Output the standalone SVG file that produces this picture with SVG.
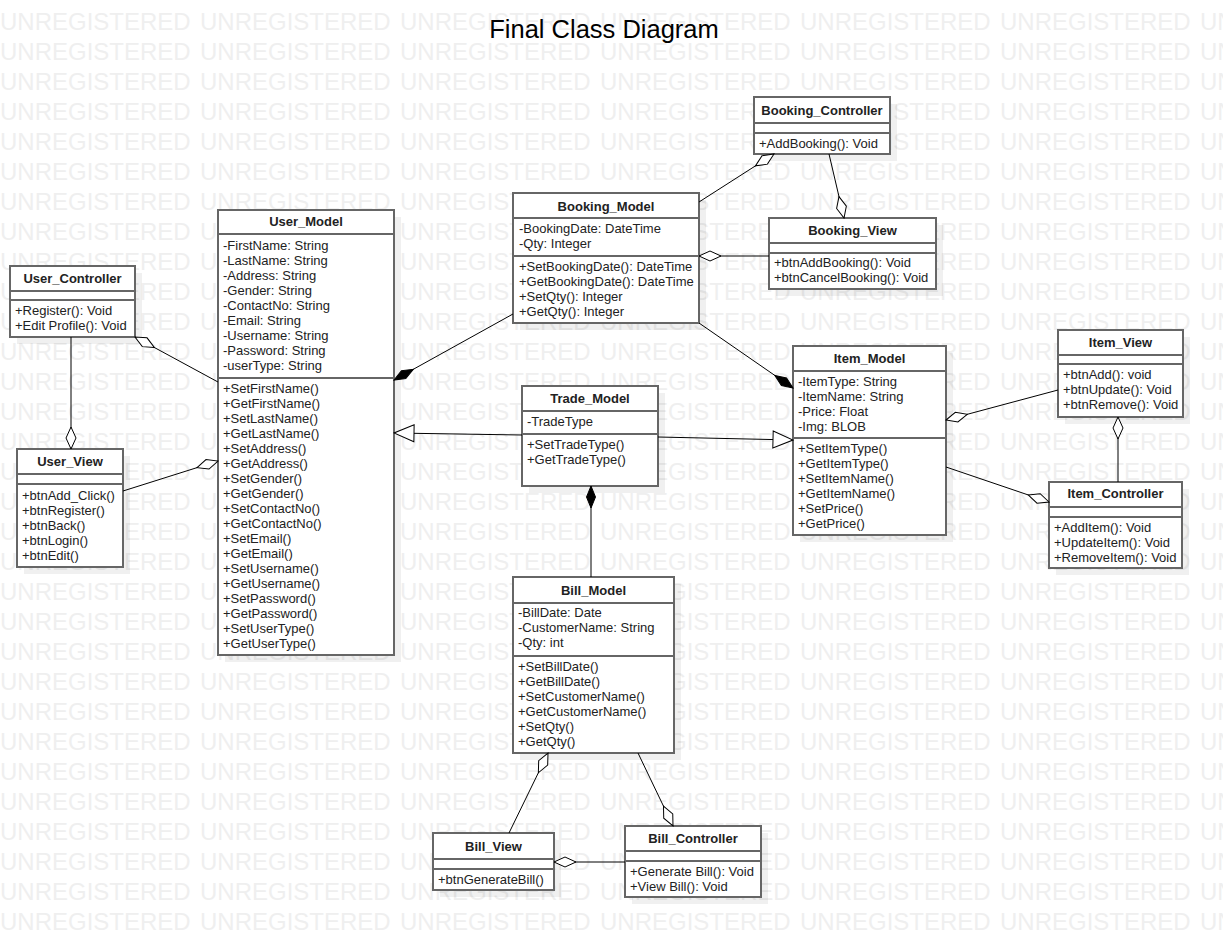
<svg xmlns="http://www.w3.org/2000/svg" width="1223" height="938" viewBox="0 0 1223 938">
<style>
.bg{fill:#fff}
.wm{font-family:"Liberation Sans",Arial,sans-serif;font-size:24px;fill:#efefef}
.sh{fill:#000;opacity:.06}
.box{fill:#fff;stroke:#666;stroke-width:2}
.dv{stroke:#666;stroke-width:2}
.t{font-family:"Liberation Sans",Arial,sans-serif;font-size:13px;fill:#222}
.h{font-weight:bold;text-anchor:middle}
.c{stroke:#000;stroke-width:1;fill:none}
.ttl{font-family:"Liberation Sans",Arial,sans-serif;font-size:25.5px;fill:#000;text-anchor:middle}
</style>
<defs>
<text id="wr" class="wm"><tspan x="0">UNREGISTERED</tspan><tspan x="200">UNREGISTERED</tspan><tspan x="400">UNREGISTERED</tspan><tspan x="600">UNREGISTERED</tspan><tspan x="800">UNREGISTERED</tspan><tspan x="1000">UNREGISTERED</tspan><tspan x="1200">UNREGISTERED</tspan></text>
<marker id="ho" markerUnits="userSpaceOnUse" markerWidth="24" markerHeight="12" viewBox="0 0 24 12" refX="23" refY="6" orient="auto"><path d="M1,6 L12,1 L23,6 L12,11 Z" fill="#fff" stroke="#000" stroke-width="1"/></marker>
<marker id="fi" markerUnits="userSpaceOnUse" markerWidth="24" markerHeight="12" viewBox="0 0 24 12" refX="23" refY="6" orient="auto"><path d="M1,6 L12,1.5 L23,6 L12,10.5 Z" fill="#000" stroke="#000" stroke-width="1"/></marker>
<marker id="tr" markerUnits="userSpaceOnUse" markerWidth="22" markerHeight="20" viewBox="0 0 22 20" refX="21" refY="10" orient="auto"><path d="M1,1.5 L21,10 L1,18.5 Z" fill="#fff" stroke="#000" stroke-width="1"/></marker>
</defs>
<rect class="bg" x="0" y="0" width="1223" height="938"/>
<g id="watermark">
<use href="#wr" y="30"/><use href="#wr" y="60"/><use href="#wr" y="90"/><use href="#wr" y="120"/><use href="#wr" y="150"/><use href="#wr" y="180"/><use href="#wr" y="210"/><use href="#wr" y="240"/><use href="#wr" y="270"/><use href="#wr" y="300"/><use href="#wr" y="330"/><use href="#wr" y="360"/><use href="#wr" y="390"/><use href="#wr" y="420"/><use href="#wr" y="450"/><use href="#wr" y="480"/><use href="#wr" y="510"/><use href="#wr" y="540"/><use href="#wr" y="570"/><use href="#wr" y="600"/><use href="#wr" y="630"/><use href="#wr" y="660"/><use href="#wr" y="690"/><use href="#wr" y="720"/><use href="#wr" y="750"/><use href="#wr" y="780"/><use href="#wr" y="810"/><use href="#wr" y="840"/><use href="#wr" y="870"/><use href="#wr" y="900"/><use href="#wr" y="930"/>
</g>
<text class="ttl" x="604" y="38">Final Class Diagram</text>

<g id="User_Controller">
<rect class="sh" x="17" y="273" width="125" height="71"/>
<rect class="box" x="10" y="266" width="125" height="71"/>
<line class="dv" x1="10" y1="291" x2="135" y2="291"/><line class="dv" x1="10" y1="300" x2="135" y2="300"/>
<text class="t h" x="72.5" y="283">User_Controller</text>
<text class="t" x="15" y="315">+Register(): Void</text>
<text class="t" x="15" y="330">+Edit Profile(): Void</text>
</g>

<g id="User_View">
<rect class="sh" x="24" y="456" width="106" height="118"/>
<rect class="box" x="17" y="449" width="106" height="118"/>
<line class="dv" x1="17" y1="474" x2="123" y2="474"/><line class="dv" x1="17" y1="484" x2="123" y2="484"/>
<text class="t h" x="70" y="466">User_View</text>
<text class="t" x="22" y="500">+btnAdd_Click()</text>
<text class="t" x="22" y="515">+btnRegister()</text>
<text class="t" x="22" y="530">+btnBack()</text>
<text class="t" x="22" y="545">+btnLogin()</text>
<text class="t" x="22" y="560">+btnEdit()</text>
</g>

<g id="User_Model">
<rect class="sh" x="225" y="217" width="176" height="445"/>
<rect class="box" x="218" y="210" width="176" height="445"/>
<line class="dv" x1="218" y1="234" x2="394" y2="234"/><line class="dv" x1="218" y1="378" x2="394" y2="378"/>
<text class="t h" x="306" y="226">User_Model</text>
<text class="t" x="223" y="250">-FirstName: String</text>
<text class="t" x="223" y="265">-LastName: String</text>
<text class="t" x="223" y="280">-Address: String</text>
<text class="t" x="223" y="295">-Gender: String</text>
<text class="t" x="223" y="310">-ContactNo: String</text>
<text class="t" x="223" y="325">-Email: String</text>
<text class="t" x="223" y="340">-Username: String</text>
<text class="t" x="223" y="355">-Password: String</text>
<text class="t" x="223" y="370">-userType: String</text>
<text class="t" x="223" y="393">+SetFirstName()</text>
<text class="t" x="223" y="408">+GetFirstName()</text>
<text class="t" x="223" y="423">+SetLastName()</text>
<text class="t" x="223" y="438">+GetLastName()</text>
<text class="t" x="223" y="453">+SetAddress()</text>
<text class="t" x="223" y="468">+GetAddress()</text>
<text class="t" x="223" y="483">+SetGender()</text>
<text class="t" x="223" y="498">+GetGender()</text>
<text class="t" x="223" y="513">+SetContactNo()</text>
<text class="t" x="223" y="528">+GetContactNo()</text>
<text class="t" x="223" y="543">+SetEmail()</text>
<text class="t" x="223" y="558">+GetEmail()</text>
<text class="t" x="223" y="573">+SetUsername()</text>
<text class="t" x="223" y="588">+GetUsername()</text>
<text class="t" x="223" y="603">+SetPassword()</text>
<text class="t" x="223" y="618">+GetPassword()</text>
<text class="t" x="223" y="633">+SetUserType()</text>
<text class="t" x="223" y="648">+GetUserType()</text>
</g>

<g id="Booking_Controller">
<rect class="sh" x="761" y="104" width="136" height="57"/>
<rect class="box" x="754" y="97" width="136" height="57"/>
<line class="dv" x1="754" y1="123" x2="890" y2="123"/><line class="dv" x1="754" y1="133" x2="890" y2="133"/>
<text class="t h" x="822" y="115">Booking_Controller</text>
<text class="t" x="759" y="148">+AddBooking(): Void</text>
</g>

<g id="Booking_Model">
<rect class="sh" x="520" y="200" width="186" height="130"/>
<rect class="box" x="513" y="193" width="186" height="130"/>
<line class="dv" x1="513" y1="218" x2="699" y2="218"/><line class="dv" x1="513" y1="256" x2="699" y2="256"/>
<text class="t h" x="606" y="211">Booking_Model</text>
<text class="t" x="519" y="233">-BookingDate: DateTime</text>
<text class="t" x="519" y="248">-Qty: Integer</text>
<text class="t" x="519" y="271">+SetBookingDate(): DateTime</text>
<text class="t" x="519" y="286">+GetBookingDate(): DateTime</text>
<text class="t" x="519" y="301">+SetQty(): Integer</text>
<text class="t" x="519" y="316">+GetQty(): Integer</text>
</g>

<g id="Booking_View">
<rect class="sh" x="776" y="225" width="167" height="71"/>
<rect class="box" x="769" y="218" width="167" height="71"/>
<line class="dv" x1="769" y1="243" x2="936" y2="243"/><line class="dv" x1="769" y1="253" x2="936" y2="253"/>
<text class="t h" x="852.5" y="235">Booking_View</text>
<text class="t" x="774" y="267">+btnAddBooking(): Void</text>
<text class="t" x="774" y="282">+btnCancelBooking(): Void</text>
</g>

<g id="Trade_Model">
<rect class="sh" x="529" y="393" width="136" height="100"/>
<rect class="box" x="522" y="386" width="136" height="100"/>
<line class="dv" x1="522" y1="411" x2="658" y2="411"/><line class="dv" x1="522" y1="434" x2="658" y2="434"/>
<text class="t h" x="590" y="403">Trade_Model</text>
<text class="t" x="527" y="426">-TradeType</text>
<text class="t" x="527" y="449">+SetTradeType()</text>
<text class="t" x="527" y="464">+GetTradeType()</text>
</g>

<g id="Item_Model">
<rect class="sh" x="800" y="353" width="153" height="189"/>
<rect class="box" x="793" y="346" width="153" height="189"/>
<line class="dv" x1="793" y1="371" x2="946" y2="371"/><line class="dv" x1="793" y1="438" x2="946" y2="438"/>
<text class="t h" x="869.5" y="363">Item_Model</text>
<text class="t" x="798" y="386">-ItemType: String</text>
<text class="t" x="798" y="401">-ItemName: String</text>
<text class="t" x="798" y="416">-Price: Float</text>
<text class="t" x="798" y="431">-Img: BLOB</text>
<text class="t" x="798" y="453">+SetItemType()</text>
<text class="t" x="798" y="468">+GetItemType()</text>
<text class="t" x="798" y="483">+SetItemName()</text>
<text class="t" x="798" y="498">+GetItemName()</text>
<text class="t" x="798" y="513">+SetPrice()</text>
<text class="t" x="798" y="528">+GetPrice()</text>
</g>

<g id="Item_View">
<rect class="sh" x="1065" y="337" width="125" height="87"/>
<rect class="box" x="1058" y="330" width="125" height="87"/>
<line class="dv" x1="1058" y1="355" x2="1183" y2="355"/><line class="dv" x1="1058" y1="364" x2="1183" y2="364"/>
<text class="t h" x="1120.5" y="347">Item_View</text>
<text class="t" x="1063" y="379">+btnAdd(): void</text>
<text class="t" x="1063" y="394">+btnUpdate(): Void</text>
<text class="t" x="1063" y="409">+btnRemove(): Void</text>
</g>

<g id="Item_Controller">
<rect class="sh" x="1056" y="489" width="133" height="86"/>
<rect class="box" x="1049" y="482" width="133" height="86"/>
<line class="dv" x1="1049" y1="507" x2="1182" y2="507"/><line class="dv" x1="1049" y1="517" x2="1182" y2="517"/>
<text class="t h" x="1115.5" y="498">Item_Controller</text>
<text class="t" x="1054" y="532">+AddItem(): Void</text>
<text class="t" x="1054" y="547">+UpdateItem(): Void</text>
<text class="t" x="1054" y="562">+RemoveItem(): Void</text>
</g>

<g id="Bill_Model">
<rect class="sh" x="520" y="584" width="161" height="176"/>
<rect class="box" x="513" y="577" width="161" height="176"/>
<line class="dv" x1="513" y1="603" x2="674" y2="603"/><line class="dv" x1="513" y1="656" x2="674" y2="656"/>
<text class="t h" x="593.5" y="595">Bill_Model</text>
<text class="t" x="518" y="617">-BillDate: Date</text>
<text class="t" x="518" y="632">-CustomerName: String</text>
<text class="t" x="518" y="647">-Qty: int</text>
<text class="t" x="518" y="671">+SetBillDate()</text>
<text class="t" x="518" y="686">+GetBillDate()</text>
<text class="t" x="518" y="701">+SetCustomerName()</text>
<text class="t" x="518" y="716">+GetCustomerName()</text>
<text class="t" x="518" y="731">+SetQty()</text>
<text class="t" x="518" y="746">+GetQty()</text>
</g>

<g id="Bill_View">
<rect class="sh" x="440" y="840" width="121" height="57"/>
<rect class="box" x="433" y="833" width="121" height="57"/>
<line class="dv" x1="433" y1="859" x2="554" y2="859"/><line class="dv" x1="433" y1="869" x2="554" y2="869"/>
<text class="t h" x="493.5" y="851">Bill_View</text>
<text class="t" x="438" y="884">+btnGenerateBill()</text>
</g>

<g id="Bill_Controller">
<rect class="sh" x="632" y="833" width="136" height="71"/>
<rect class="box" x="625" y="826" width="136" height="71"/>
<line class="dv" x1="625" y1="851" x2="761" y2="851"/><line class="dv" x1="625" y1="861" x2="761" y2="861"/>
<text class="t h" x="693" y="843">Bill_Controller</text>
<text class="t" x="630" y="876">+Generate Bill(): Void</text>
<text class="t" x="630" y="891">+View Bill(): Void</text>
</g>

<g id="connectors">
<path class="c" d="M218,382 L135,337" marker-end="url(#ho)"/>
<path class="c" d="M71,337 L71,449" marker-end="url(#ho)"/>
<path class="c" d="M123,491 L218,461" marker-end="url(#ho)"/>
<path class="c" d="M513,314 L394,380" marker-end="url(#fi)"/>
<path class="c" d="M699,323 L793,388" marker-end="url(#fi)"/>
<path class="c" d="M522,435 L394,433" marker-end="url(#tr)"/>
<path class="c" d="M658,437 L793,440" marker-end="url(#tr)"/>
<path class="c" d="M591,577 L591,486" marker-end="url(#fi)"/>
<path class="c" d="M699,202 L774,154" marker-end="url(#ho)"/>
<path class="c" d="M829,154 L844,218" marker-end="url(#ho)"/>
<path class="c" d="M769,256 L699,256" marker-end="url(#ho)"/>
<path class="c" d="M1058,390 L946,420" marker-end="url(#ho)"/>
<path class="c" d="M946,467 L1049,502" marker-end="url(#ho)"/>
<path class="c" d="M1118,482 L1118,417" marker-end="url(#ho)"/>
<path class="c" d="M509,833 L548,753" marker-end="url(#ho)"/>
<path class="c" d="M638,753 L673,826" marker-end="url(#ho)"/>
<path class="c" d="M625,862 L554,862" marker-end="url(#ho)"/>
</g>
</svg>
